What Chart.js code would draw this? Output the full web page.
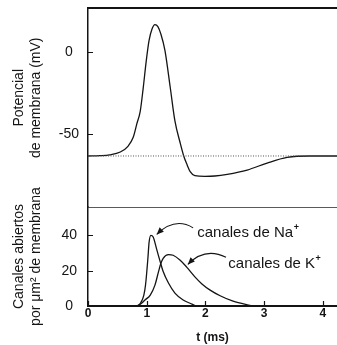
<!DOCTYPE html>
<html><head><meta charset="utf-8">
<script src="https://cdn.jsdelivr.net/npm/chart.js@4"></script>
<style>html,body{margin:0;padding:0;background:#fff}</style>
</head><body>
<canvas id="c" width="337" height="345"></canvas>
<script>
// ---- data ----
const xTicks = [0, 1, 2, 3, 4];
const vTicks = [-50, 0];
const chTicks = [0, 20, 40];

const apTime    = [0.00, 0.20, 0.37, 0.55, 0.68, 0.77, 0.83, 0.89, 0.94, 0.99, 1.04, 1.09, 1.14, 1.19, 1.24, 1.31, 1.40, 1.48, 1.57, 1.63, 1.69, 1.74, 1.82, 1.99, 2.16, 2.37, 2.71, 3.05, 3.39, 3.78, 4.24];
const apVoltage = [-63.4, -63.2, -62.7, -61.0, -57.5, -52, -44, -36, -22, -6, 7, 14, 16.7, 15.5, 11, 1, -21.5, -42, -55.5, -63.4, -69, -73, -75.4, -75.8, -75.6, -74.6, -72, -67.7, -64.3, -63.4, -63.4];

const restTime    = [0, 4.24];
const restVoltage = [-63.4, -63.4];

const naTime     = [0.00, 0.80, 0.85, 0.90, 0.95, 0.98, 1.02, 1.04, 1.07, 1.11, 1.17, 1.23, 1.28, 1.37, 1.48, 1.62, 1.77, 1.86, 4.24];
const naChannels = [0, 0, 0.3, 2, 6, 12, 27, 36, 40, 39, 32, 25, 19.5, 13, 7.3, 3.4, 1.1, 0, 0];

const kTime     = [0.00, 0.80, 0.89, 0.97, 1.06, 1.14, 1.20, 1.24, 1.28, 1.37, 1.45, 1.57, 1.68, 1.82, 1.94, 2.08, 2.25, 2.47, 2.70, 2.84, 4.24];
const kChannels = [0, 0, 1, 3.4, 6.2, 11.8, 19.3, 24, 27, 29.1, 28.7, 25.9, 22, 16.5, 12.5, 9, 5.8, 2.7, 0.8, 0, 0];

const naLabel = 'canales de Na';
const kLabel = 'canales de K';
const ionSup = '+';
// annotation anchors (data units): text position, arrow start / control / tip
const naText = [1.86, 41.1];
const naArrow = [[1.79, 44.2], [1.48, 50.5], [1.17, 40.5]];
const kText = [2.39, 23.7];
const kArrow = [[2.35, 27.6], [1.99, 33.5], [1.70, 23.5]];

const FONT = "'Liberation Sans', Arial, Helvetica, sans-serif";
const INK = '#141414';
Chart.defaults.font.family = FONT;
Chart.defaults.color = INK;

const pts = (xs, ys) => xs.map((x, i) => ({x, y: ys[i]}));

function arrow(ctx, P0, P1, P2) {
  ctx.beginPath();
  ctx.moveTo(P0[0], P0[1]);
  ctx.quadraticCurveTo(P1[0], P1[1], P2[0], P2[1]);
  ctx.stroke();
  const ang = Math.atan2(P2[1] - P1[1], P2[0] - P1[0]);
  const L = 7, W = 3;
  ctx.beginPath();
  ctx.moveTo(P2[0], P2[1]);
  ctx.lineTo(P2[0] - L * Math.cos(ang) + W * Math.sin(ang), P2[1] - L * Math.sin(ang) - W * Math.cos(ang));
  ctx.lineTo(P2[0] - L * Math.cos(ang) - W * Math.sin(ang), P2[1] - L * Math.sin(ang) + W * Math.cos(ang));
  ctx.closePath();
  ctx.fill();
}

const decor = {
  id: 'decor',
  afterDraw(chart) {
    const {ctx, chartArea: a, scales: {x, yv, yc}} = chart;
    ctx.save();
    ctx.strokeStyle = INK; ctx.fillStyle = INK; ctx.lineWidth = 1.2;
    // inward tick marks
    ctx.beginPath();
    vTicks.forEach(v => { const p = Math.round(yv.getPixelForValue(v)) + 0.5; ctx.moveTo(a.left, p); ctx.lineTo(a.left + 5, p); });
    chTicks.forEach(v => { const p = Math.round(yc.getPixelForValue(v)) + 0.5; ctx.moveTo(a.left, p); ctx.lineTo(a.left + 5, p); });
    xTicks.forEach(v => { const p = Math.round(x.getPixelForValue(v)) + 0.5; ctx.moveTo(p, a.bottom); ctx.lineTo(p, a.bottom - 5); });
    ctx.stroke();
    // labels with superscripts
    const lab = (txt, pos) => {
      const px = x.getPixelForValue(pos[0]), py = yc.getPixelForValue(pos[1]);
      ctx.font = '15px ' + FONT; ctx.textBaseline = 'middle'; ctx.textAlign = 'left';
      ctx.fillText(txt, px, py);
      const w = ctx.measureText(txt).width;
      ctx.font = 'bold 9px ' + FONT;
      ctx.fillText(ionSup, px + w + 0.5, py - 6);
    };
    lab(naLabel, naText);
    lab(kLabel, kText);
    // arrows
    ctx.lineWidth = 1.1;
    const toPx = p => [x.getPixelForValue(p[0]), yc.getPixelForValue(p[1])];
    arrow(ctx, ...naArrow.map(toPx));
    arrow(ctx, ...kArrow.map(toPx));
    ctx.restore();
  }
};

const noPad = s => { s.paddingTop = 0; s.paddingBottom = 0; };
const lineStyle = {borderColor: INK, borderWidth: 1.3, pointRadius: 0, fill: false, cubicInterpolationMode: 'monotone'};

new Chart(document.getElementById('c'), {
  type: 'line',
  data: {
    datasets: [
      {...lineStyle, label: 'reposo', data: pts(restTime, restVoltage), yAxisID: 'yv', borderColor: '#555', borderWidth: 1, borderDash: [1, 1.5], cubicInterpolationMode: 'default', tension: 0},
      {...lineStyle, label: 'potencial', data: pts(apTime, apVoltage), yAxisID: 'yv'},
      {...lineStyle, label: 'Na', data: pts(naTime, naChannels), yAxisID: 'yc'},
      {...lineStyle, label: 'K', data: pts(kTime, kChannels), yAxisID: 'yc'}
    ]
  },
  options: {
    responsive: false,
    animation: false,
    devicePixelRatio: 1,
    layout: {padding: 0},
    plugins: {legend: {display: false}, tooltip: {enabled: false}},
    scales: {
      x: {
        type: 'linear', position: 'bottom', min: 0, max: 4.24,
        afterBuildTicks: s => { s.ticks = xTicks.map(v => ({value: v})); },
        afterFit: s => { s.height = 39; s.paddingLeft = 0; s.paddingRight = 0; },
        grid: {display: false, drawTicks: false},
        border: {display: true, color: INK, width: 2},
        ticks: {font: {size: 12, weight: 'bold'}, padding: 0, maxRotation: 0, autoSkip: false, color: INK},
        title: {display: true, text: 't (ms)', font: {size: 12, weight: 'bold'}, padding: {top: 8, bottom: 0}, color: INK}
      },
      x2: {
        type: 'linear', position: 'top', min: 0, max: 4.24,
        afterFit: s => { s.height = 8; s.paddingLeft = 0; s.paddingRight = 0; },
        grid: {display: false, drawTicks: false},
        border: {display: true, color: INK, width: 2},
        ticks: {display: false}
      },
      yc: {
        type: 'linear', position: 'left', stack: 'panels', stackWeight: 99,
        min: 0, max: 56,
        afterBuildTicks: s => { s.ticks = [...chTicks, 56].map(v => ({value: v})); },
        afterFit: s => { s.width = 88; noPad(s); },
        grid: {display: true, drawTicks: false, lineWidth: 1, color: c => (c.tick && c.tick.value === 56) ? '#5a5a5a' : 'rgba(0,0,0,0)'},
        border: {display: true, color: INK, width: 1.5},
        ticks: {font: {size: 14}, padding: 11, crossAlign: 'center', autoSkip: false, color: INK, callback: v => (v === 56 ? '' : v)},
        title: {display: true, text: ['Canales abiertos', 'por μm² de membrana'], font: {size: 14}, padding: {top: 11, bottom: 0}, color: INK}
      },
      yv: {
        type: 'linear', position: 'left', stack: 'panels', stackWeight: 199,
        min: -94.5, max: 26.8,
        afterBuildTicks: s => { s.ticks = vTicks.map(v => ({value: v})); },
        afterFit: s => { s.width = 88; noPad(s); },
        grid: {display: false, drawTicks: false},
        border: {display: true, color: INK, width: 1.5},
        ticks: {font: {size: 14}, padding: 9, crossAlign: 'center', autoSkip: false, color: INK},
        title: {display: true, text: ['     Potencial', '     de membrana (mV)'], font: {size: 14}, padding: {top: 11, bottom: 0}, color: INK}
      }
    }
  },
  plugins: [decor]
});
</script>
</body></html>
